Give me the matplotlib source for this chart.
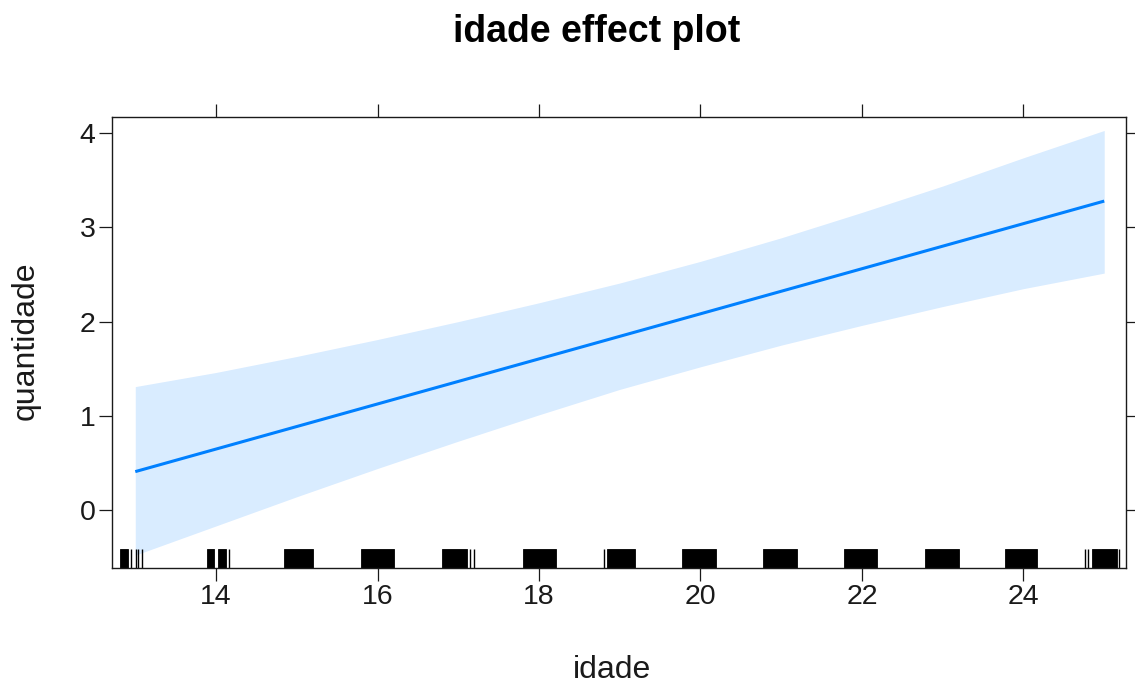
import numpy as np
import matplotlib
matplotlib.use("Agg")
import matplotlib.pyplot as plt

plt.rcParams['font.family'] = ['Liberation Sans', 'DejaVu Sans']

# fitted effect of idade with its confidence band
fit_idade = [13, 25]
fit_quant = [0.407, 3.28]

band_idade = [13, 14, 15, 16, 17, 18, 19, 20, 21, 22, 23, 24, 25]
band_upper = [1.31, 1.46, 1.63, 1.81, 2.00, 2.20, 2.41, 2.64, 2.89, 3.16, 3.44, 3.74, 4.03]
band_lower = [-0.48, -0.17, 0.14, 0.44, 0.73, 1.01, 1.28, 1.52, 1.75, 1.96, 2.16, 2.35, 2.515]

# rug of observed (jittered) ages: solid runs and single strokes
rug_runs = [(12.81, 12.905), (13.885, 13.98), (14.03, 14.125), (14.84, 15.205),
            (15.79, 16.205), (16.795, 17.105), (17.80, 18.21), (18.845, 19.19),
            (19.767, 20.19), (20.77, 21.19), (21.777, 22.19), (22.78, 23.2),
            (23.77, 24.17), (24.852, 25.154)]
rug_single = [12.947, 13.003, 13.034, 13.084, 14.16, 17.14, 17.19, 18.81,
              24.76, 24.805, 25.18]

xticks = [14, 16, 18, 20, 22, 24]
yticks = [0, 1, 2, 3, 4]

line_col = '#0080ff'
ink = '#1a1a1a'

fig = plt.figure(figsize=(11.35, 6.83), dpi=100)
ax = fig.add_axes([0.0984, 0.1679, 0.8937, 0.6604])

ax.fill_between(band_idade, band_lower, band_upper, color=line_col, alpha=0.15, lw=0)
ax.plot(fit_idade, fit_quant, color=line_col, lw=2.2, solid_capstyle='butt')

rug_h = 0.042
for lo, hi in rug_runs:
    ax.axvspan(lo, hi, ymin=0, ymax=rug_h, color='black', lw=0.6)
ax.vlines(rug_single, 0, rug_h, transform=ax.get_xaxis_transform(), color='black', lw=1.0)

ax.set_xlim(12.708, 25.27)
ax.set_ylim(-0.62, 4.17)
ax.set_xticks(xticks)
ax.set_yticks(yticks)

for s in ax.spines.values():
    s.set_color(ink)
    s.set_linewidth(1.0)
ax.tick_params(direction='out', length=9.5, width=0.9, color=ink, labelsize=20.5,
               labelcolor=ink, top=True, right=True, pad=2)

fig.text(0.526, 0.9385, 'idade effect plot', ha='center', va='baseline',
         fontsize=27, fontweight='bold', color='black')
fig.text(0.539, 0.0073, 'idade', ha='center', va='baseline', fontsize=23, color=ink)
fig.text(0.023, 0.5007, 'quantidade', ha='center', va='center', rotation=90,
         fontsize=23, color=ink)

fig.savefig('out.png', dpi=100)
